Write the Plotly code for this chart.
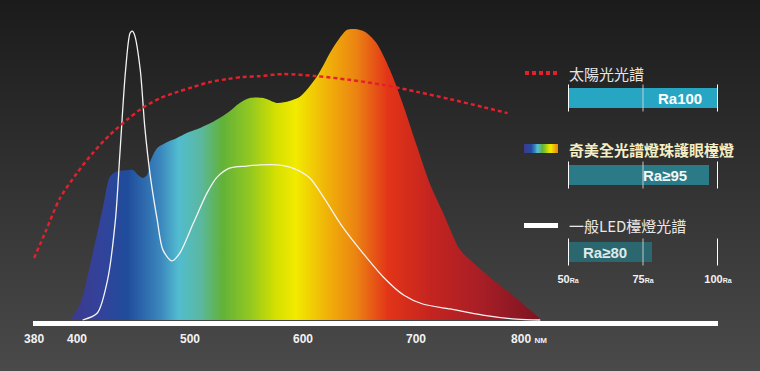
import base64, struct, zlib
import plotly.graph_objects as go

# ---------------- data ----------------
# Chimei full-spectrum lamp (relative intensity, peak = 100)
spec_nm = [394, 403, 414, 423, 429, 434, 444, 450, 454, 458, 462, 465, 471, 480, 488, 497,
           509, 520, 533, 544, 553, 565, 577, 588, 597, 612, 627, 639, 646, 655, 665, 677,
           688, 701, 712, 724, 739, 748, 765, 783, 801, 811]
spec_val = [0, 5.8, 23.0, 38.8, 49.1, 50.9, 51.5, 51.5, 49.8, 48.8, 49.8, 54.6, 59.1, 61.2, 62.5, 64.3,
            66.0, 68.0, 71.1, 74.6, 76.3, 76.3, 74.6, 75.3, 76.6, 83.5, 93.8, 99.7, 100, 99.0, 95.2, 85.9,
            74.6, 59.5, 47.1, 36.8, 24.1, 20.6, 14.8, 9.3, 3.4, 0]

# Ordinary LED desk lamp
led_nm = [405, 418, 427, 434, 438, 443, 447, 449, 451, 456, 460, 465, 471, 476, 484, 491,
          503, 515, 524, 535, 550, 562, 577, 591, 606, 618, 635, 653, 671, 689, 706, 730,
          759, 789, 810]
led_val = [0, 2.4, 13.7, 34.4, 57.4, 85.9, 98.6, 99.3, 97.9, 85.9, 66.3, 49.1, 34.4, 24.1, 20.3, 23.0,
           33.3, 43.6, 49.1, 52.2, 52.9, 53.3, 53.3, 52.2, 48.8, 42.3, 32.0, 23.0, 14.8, 8.6, 5.5, 3.8,
           1.7, 0.3, 0]

# Sunlight
sun_nm = [362, 372, 385, 400, 414, 429, 444, 458, 474, 489, 503, 518, 533, 547, 562, 582,
          612, 642, 671, 701, 730, 759, 781]
sun_val = [21.3, 30.2, 41.9, 50.5, 57.4, 63.6, 68.7, 72.9, 76.3, 78.4, 80.1, 81.8, 82.8, 83.5, 83.8, 84.5,
           83.8, 82.5, 80.8, 78.4, 75.9, 73.2, 71.1]

x_tick_vals = [362, 400, 500, 600, 700, 800]
x_tick_text = ["380", "400", "500", "600", "700", "800 <span style='font-size:8px'>NM</span>"]

series_names = ["太陽光光譜", "奇美全光譜燈珠護眼檯燈", "一般LED檯燈光譜"]
ra_labels = ["Ra100", "Ra≥95", "Ra≥80"]
ra_values = [100, 97, 78]
ra_ticks = [50, 75, 100]
ra_tick_text = ["50<span style='font-size:7px'>Ra</span>",
                "75<span style='font-size:7px'>Ra</span>",
                "100<span style='font-size:7px'>Ra</span>"]

# ---------------- styles ----------------
W, H = 760, 371
rainbow = [
    [0.000, "#3c3a8e"], [0.064, "#33429a"], [0.121, "#1f4c9c"], [0.191, "#3b86bd"],
    [0.230, "#52bccf"], [0.277, "#5ab8a0"], [0.323, "#62b238"], [0.383, "#94c820"],
    [0.436, "#d4e000"], [0.479, "#f2ea00"], [0.543, "#f0b408"], [0.606, "#ec8412"],
    [0.674, "#e23418"], [0.766, "#c42420"], [0.872, "#a81e26"], [1.000, "#7a1422"],
]
bar_colors = ["#27a6c4", "#2a7a88", "#2b676e"]
bar_text_colors = ["#ffffff", "#f2f6f6", "#dfe9e9"]
bar_label_x = [87.3, 82.3, 62.3]
legend_text_colors = ["#e6e6e6", "#f4eec4", "#e8e8e8"]


def png_uri(rows):
    h = len(rows)
    w = len(rows[0])
    raw = b"".join(b"\x00" + bytes([c for px in r for c in px]) for r in rows)

    def chunk(t, d):
        return struct.pack(">I", len(d)) + t + d + struct.pack(">I", zlib.crc32(t + d) & 0xffffffff)
    png = (b"\x89PNG\r\n\x1a\n" + chunk(b"IHDR", struct.pack(">IIBBBBB", w, h, 8, 2, 0, 0, 0))
           + chunk(b"IDAT", zlib.compress(raw)) + chunk(b"IEND", b""))
    return "data:image/png;base64," + base64.b64encode(png).decode()


def hex2rgb(h):
    h = h.lstrip("#")
    return tuple(int(h[i:i + 2], 16) for i in (0, 2, 4))


def scale_at(t, scale):
    for (p0, c0), (p1, c1) in zip(scale[:-1], scale[1:]):
        if p0 <= t <= p1:
            f = (t - p0) / (p1 - p0) if p1 > p0 else 0
            a, b = hex2rgb(c0), hex2rgb(c1)
            return tuple(int(round(a[i] + (b[i] - a[i]) * f)) for i in range(3))
    return hex2rgb(scale[-1][1])


# background vertical gradient
top, bot = 0x1b, 0x4a
bg_rows = [[(v, v, v)] * 2 for v in [int(round(top + (bot - top) * y / (H - 1))) for y in range(H)]]
bg_uri = png_uri(bg_rows)
# rainbow legend swatch
sw = [scale_at(i / 33 * 0.6, rainbow) for i in range(34)]
sw_uri = png_uri([sw] * 2)

# axis geometry: 400nm -> px 77, 1.13 px per nm
px_per_nm = 1.13
x0_px, x1_px = 33, 718
xr = [400 + (x0_px - 77) / px_per_nm, 400 + (x1_px - 77) / px_per_nm]
base_py, px_per_unit = 320, 2.91
yr = [-(H - base_py) / px_per_unit, base_py / px_per_unit]

fig = go.Figure()

fig.add_trace(go.Scatter(
    x=spec_nm, y=spec_val, mode="lines", line=dict(width=0, shape="spline", smoothing=0.8),
    fill="tozeroy", fillgradient=dict(type="horizontal", colorscale=rainbow,
                                      start=spec_nm[0], stop=spec_nm[-1]),
    hoverinfo="skip", showlegend=False))
fig.add_trace(go.Scatter(
    x=led_nm, y=led_val, mode="lines", line=dict(color="#f4f4f4", width=1.3, shape="spline", smoothing=0.8),
    hoverinfo="skip", showlegend=False))
fig.add_trace(go.Scatter(
    x=sun_nm, y=sun_val, mode="lines",
    line=dict(color="#e3202c", width=2.5, dash="4px,3px", shape="spline", smoothing=0.8),
    hoverinfo="skip", showlegend=False))

# Ra bars
rows = list(range(len(ra_labels)))
fig.add_trace(go.Bar(
    orientation="h", y=rows, x=[v - ra_ticks[0] for v in ra_values], base=ra_ticks[0],
    width=0.25, marker=dict(color=bar_colors, line=dict(width=0)),
    xaxis="x2", yaxis="y2", hoverinfo="skip", showlegend=False))

hl = 0.175
for tick_group, col, wdt in [([ra_ticks[0], ra_ticks[2]], "#ffffff", 2), ([ra_ticks[1]], "rgba(210,210,210,0.45)", 2)]:
    xs, ys = [], []
    for r in rows:
        for t in tick_group:
            xs += [t, t, None]
            ys += [r - hl, r + hl, None]
    fig.add_trace(go.Scatter(x=xs, y=ys, mode="lines", line=dict(color=col, width=wdt),
                             xaxis="x2", yaxis="y2", hoverinfo="skip", showlegend=False))

ann = []
for r, lab, lx, tc in zip(rows, ra_labels, bar_label_x, bar_text_colors):
    ann.append(dict(x=lx, y=r, xref="x2", yref="y2", text=lab, showarrow=False,
                    font=dict(family="Liberation Sans, Arial", size=15, color=tc, weight="bold")))

legend_y = [73, 149, 226]
for name, ly, col, i in zip(series_names, legend_y, legend_text_colors, rows):
    ann.append(dict(x=567 / W, y=1 - ly / H, xref="paper", yref="paper", xanchor="left", yanchor="middle",
                    text=name, showarrow=False,
                    font=dict(family="Noto Sans CJK TC", size=15, color=col,
                              weight="bold" if i == 1 else "normal")))

shapes = [
    dict(type="line", xref="paper", yref="paper", x0=525 / W, x1=558 / W, y0=1 - 73 / H, y1=1 - 73 / H,
         line=dict(color="#e3202c", width=4, dash="4px,3px")),
    dict(type="rect", xref="paper", yref="paper", x0=524 / W, x1=558 / W, y0=1 - 228 / H, y1=1 - 223 / H,
         line=dict(width=0), fillcolor="#ffffff"),
]

images = [
    dict(source=bg_uri, xref="paper", yref="paper", x=0, y=1, sizex=1, sizey=1,
         sizing="stretch", xanchor="left", yanchor="top", layer="below"),
    dict(source=sw_uri, xref="paper", yref="paper", x=524 / W, y=1 - 144 / H, sizex=34 / W, sizey=9 / H,
         sizing="stretch", xanchor="left", yanchor="top", layer="above"),
]

axis_py = 322.5
ra_axis_py = 265.5
fig.update_layout(
    width=W, height=H, margin=dict(l=0, r=0, t=0, b=0, pad=0, autoexpand=False),
    paper_bgcolor="#2c2c2c", plot_bgcolor="rgba(0,0,0,0)",
    showlegend=False, bargap=0,
    xaxis=dict(domain=[x0_px / W, x1_px / W], range=xr, anchor="free", position=(H - axis_py) / H,
               automargin=False,
               showline=True, linewidth=5, linecolor="#ffffff", showgrid=False, zeroline=False,
               tickvals=x_tick_vals, ticktext=x_tick_text, ticks="outside", ticklen=3,
               tickcolor="rgba(0,0,0,0)",
               tickfont=dict(family="Liberation Sans, Arial", size=12, color="#f2f2f2", weight="bold")),
    yaxis=dict(domain=[0, 1], range=yr, visible=False, automargin=False),
    xaxis2=dict(domain=[568 / W, 718 / W], range=[ra_ticks[0], ra_ticks[-1]], anchor="free",
                automargin=False,
                position=(H - ra_axis_py) / H, showline=False, showgrid=False, zeroline=False,
                tickvals=ra_ticks, ticktext=ra_tick_text, ticks="outside", ticklen=3,
                tickcolor="rgba(0,0,0,0)",
                tickfont=dict(family="Liberation Sans, Arial", size=11, color="#f2f2f2", weight="bold")),
    yaxis2=dict(domain=[0, 1], range=[(H - 98) / 77, -98 / 77], anchor="x2", visible=False,
                automargin=False),
    annotations=ann, shapes=shapes, images=images,
)

fig.write_html("out.html", config={"displayModeBar": False, "staticPlot": True},
               post_script="document.body.style.margin='0px';")
